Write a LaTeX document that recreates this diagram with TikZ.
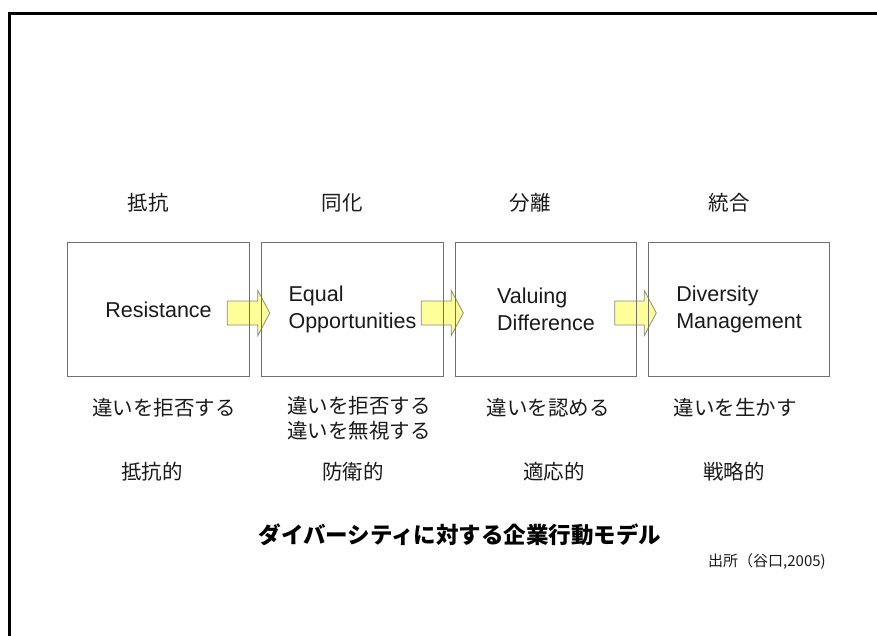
\documentclass[tikz,border=0pt]{standalone}
\usepackage{fontspec}
\setmainfont{Liberation Sans}
\newfontfamily\jp{Noto Sans CJK JP}
\usetikzlibrary{calc,backgrounds}
\definecolor{boxgray}{HTML}{707070}
\definecolor{arrowgray}{HTML}{8A8A8A}
\definecolor{arrowyellow}{HTML}{FFFF99}
\definecolor{txt}{HTML}{1A1A1A}
\tikzset{
  stage/.style={minimum width=181pt, minimum height=133pt, inner sep=0pt, align=left,
    text=txt, font=\fontsize{21.5}{26.5}\selectfont},
  stageframe/.style={draw=boxgray, line width=1.3pt},
  jlabel/.style={text=txt, inner sep=0pt, font=\jp\fontsize{20.5}{25}\selectfont, align=center},
  flow/.style={draw=arrowgray, fill=arrowyellow, line width=0.8pt, line join=miter},
  frame/.style={draw=black, line width=3pt},
}
\newcommand\flowarrow[2]{%
  \draw[flow] let \p1=($(#1.east)+(-22pt,0)$), \p2=($(#2.west)+(8pt,0)$) in
  (\x1,\y1+8.5pt) -- (\x2-12pt,\y1+8.5pt) -- (\x2-12pt,\y1+19pt) -- (\x2,\y1-3.5pt)
  -- (\x2-12pt,\y1-26pt) -- (\x2-12pt,\y1-15.5pt) -- (\x1,\y1-15.5pt) -- cycle;}
\begin{document}
\begin{tikzpicture}[x=1pt,y=-1pt]
\useasboundingbox (0,0) rectangle (877,636);

\node[stage] (b1) at (158.5,309.5) {Resistance};
\node[stage] (b2) at (352.5,309.5) {Equal\\Opportunities};
\node[stage] (b3) at (546,309.5) {Valuing\\Difference};
\node[stage] (b4) at (739,309.5) {Diversity\\Management};

\begin{scope}[on background layer]
\fill[white] (0,0) rectangle (877,636);
\flowarrow{b1}{b2}
\flowarrow{b2}{b3}
\flowarrow{b3}{b4}
\end{scope}

\coordinate (fTR) at (877,14);
\coordinate (fTL) at (9.5,14);
\coordinate (fBL) at (9.5,636);
\draw[frame] (fTR) -- (fTL) -- (fBL);

\foreach \b in {b1,b2,b3,b4}{
  \draw[stageframe] (\b.north west) rectangle (\b.south east);
}

\node[jlabel] (h1) at (148,203) {抵抗};
\node[jlabel] (h2) at (342,203) {同化};
\node[jlabel] (h3) at (530,203) {分離};
\node[jlabel] (h4) at (729,203) {統合};

\node[jlabel] (d1) at (164,408) {違いを拒否する};
\node[jlabel, anchor=north] (d2) at (359,396) {違いを拒否する\\違いを無視する};
\node[jlabel] (d3) at (548,408) {違いを認める};
\node[jlabel] (d4) at (735,408) {違いを生かす};

\node[jlabel] (s1) at (152,472) {抵抗的};
\node[jlabel] (s2) at (353,472) {防衛的};
\node[jlabel] (s3) at (554,472) {適応的};
\node[jlabel] (s4) at (734,472) {戦略的};

\node[text=black, inner sep=0pt, font=\jp\bfseries\fontsize{22.5}{27}\selectfont] (title) at (460,535) {ダイバーシティに対する企業行動モデル};
\node[text=txt, inner sep=0pt, anchor=west, font=\jp\fontsize{15}{18}\selectfont] (src) at (708,562) {出所（谷口,2005)};
\end{tikzpicture}
\end{document}
